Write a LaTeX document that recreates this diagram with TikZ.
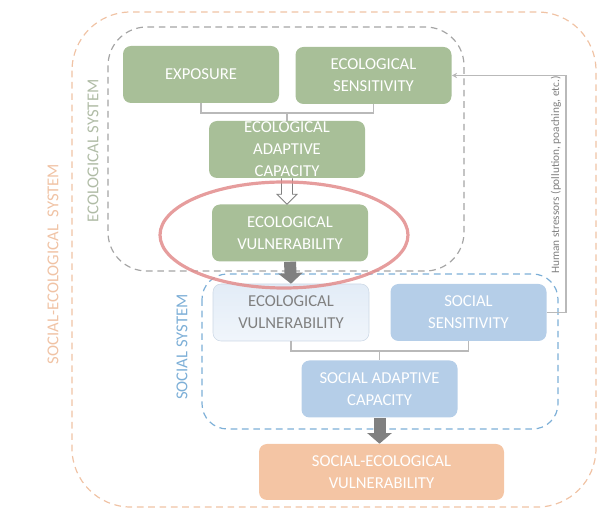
\documentclass[tikz,border=0pt]{standalone}
\usepackage{fontspec}
\setmainfont{Carlito}
\usetikzlibrary{arrows.meta,calc}
\definecolor{ecogreen}{RGB}{168,191,152}
\definecolor{socblue}{RGB}{181,206,232}
\definecolor{palblue}{RGB}{226,236,247}
\definecolor{seorange}{RGB}{244,197,164}
\definecolor{ecoline}{RGB}{165,165,165}
\definecolor{socline}{RGB}{125,175,215}
\definecolor{seline}{RGB}{240,195,165}
\definecolor{ecotext}{RGB}{176,188,166}
\definecolor{linkgray}{RGB}{185,185,185}
\definecolor{arrowgray}{RGB}{128,128,128}
\definecolor{ringred}{RGB}{226,140,140}

\begin{document}
\begin{tikzpicture}[x=0.75pt,y=-0.75pt]
						\tikzstyle{every node}+=[inner sep=0pt, align=center, font=\fontsize{12.5}{16.5}\selectfont]
						\tikzstyle{box}=[rounded corners=6pt, minimum width=117pt, minimum height=42.75pt, text=white]
						\tikzstyle{ecobox}=[box, fill=ecogreen]
						\tikzstyle{socbox}=[box, fill=socblue]
						\tikzstyle{link}=[linkgray, line width=1pt]
						\tikzstyle{bigarrow}=[arrowgray, line width=9pt, -{Triangle[width=18pt,length=8pt]}]
						\useasboundingbox (0,0) rectangle (608,509);
						\draw [seline, line width=0.9pt, dash pattern=on 5pt off 3.5pt, rounded corners=44pt] (72,12) rectangle (596,507);
						\draw [ecoline, line width=0.9pt, dash pattern=on 5pt off 3.5pt, rounded corners=29pt] (108,27) rectangle (464,271);
						\draw [socline, line width=0.9pt, dash pattern=on 5pt off 3.5pt, rounded corners=19pt] (202,274) rectangle (558,429);
						\node [rotate=90, text=seline] (selabel) at (53,264) {SOCIAL-ECOLOGICAL\ \ SYSTEM};
						\node [rotate=90, text=ecotext] (ecolabel) at (93,151) {ECOLOGICAL SYSTEM};
						\node [rotate=90, text=socline] (soclabel) at (182,347) {SOCIAL SYSTEM};
						\node [ecobox] (expo) at (201,74.5) {EXPOSURE};
						\node [ecobox] (ecosens) at (373.5,75.5) {ECOLOGICAL\\SENSITIVITY};
						\node [ecobox] (ecoadapt) at (287,149.5) {ECOLOGICAL\\ADAPTIVE\\CAPACITY};
						\node [ecobox] (ecovuln) at (290,233) {ECOLOGICAL\\VULNERABILITY};
						\node [box, text=arrowgray, draw=socblue!80!gray!60, top color=palblue, bottom color=palblue!50!white] (socecovuln) at (291,312.5) {ECOLOGICAL\\VULNERABILITY};
						\node [socbox] (socsens) at (468.5,312.5) {SOCIAL\\SENSITIVITY};
						\node [socbox] (socadapt) at (379.5,389) {SOCIAL ADAPTIVE\\CAPACITY};
						\node [box, fill=seorange, minimum width=183.75pt, minimum height=42pt] (sevuln) at (381.5,472) {SOCIAL-ECOLOGICAL\\VULNERABILITY};
						\coordinate (ecojoin) at (287,113);
						\draw [link] (expo.south) |- (ecojoin) -| (ecosens.south);
						\draw [link] (ecojoin) -- (ecoadapt.north);
						\coordinate (socjoin) at (379.5,351);
						\draw [link] (socecovuln.south) |- (socjoin) -| (socsens.south);
						\draw [link] (socjoin) -- (socadapt.north);
						\coordinate (stressturn) at (566,312.5);
						\draw [link, -{Stealth[length=4pt,width=4pt]}] (socsens.east) -- (stressturn) |- (ecosens.east);
						\node [rotate=90, text=arrowgray, font=\fontsize{8.5}{10}\selectfont] (stresslabel) at (556,175) {Human stressors (pollution, poaching, etc.)};
						\coordinate (ha) at (ecoadapt.south);
						\coordinate (hb) at (ecoadapt.south |- ecovuln.north);
						\draw [arrowgray, fill=white, line width=0.6pt] ($(ha)+(-5.5,0)$) -- ($(hb)+(-5.5,-10)$) -- ($(hb)+(-10,-10)$) -- (hb) -- ($(hb)+(10,-10)$) -- ($(hb)+(5.5,-10)$) -- ($(ha)+(5.5,0)$);
						\draw [bigarrow] (ecovuln.south) -- (socecovuln.north);
						\draw [bigarrow] (socadapt.south) -- (socadapt.south |- sevuln.north);
						\draw [ringred, opacity=0.85, line width=2.4pt] (284,235) ellipse [x radius=124, y radius=53];
					\end{tikzpicture}
\end{document}
